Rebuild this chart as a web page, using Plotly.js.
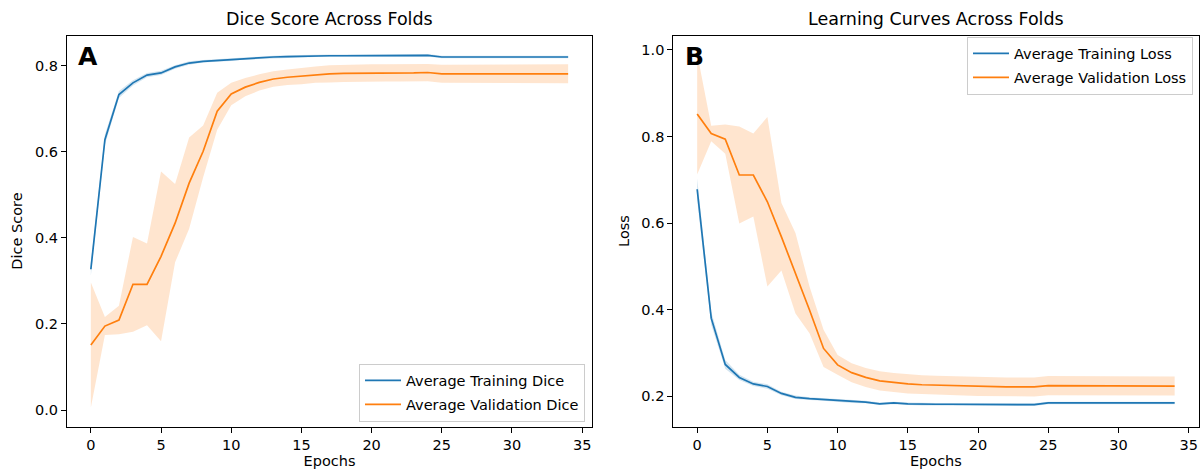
<!DOCTYPE html>
<html>
<head>
<meta charset="utf-8">
<script src="https://cdn.plot.ly/plotly-3.0.1.min.js"></script>
<style>html,body{margin:0;padding:0;background:#fff;}#chart{width:1201px;height:471px;}</style>
</head>
<body>
<div id="chart"></div>
<script>
// ---- data ----
const epochs = [0,1,2,3,4,5,6,7,8,9,10,11,12,13,14,15,16,17,18,19,20,21,22,23,24,25,26,27,28,29,30,31,32,33,34];

const trainDiceMean = [0.327,0.628,0.733,0.760,0.778,0.783,0.797,0.806,0.810,0.812,0.814,0.817,0.819,0.820,0.821,0.822,0.823,0.823,0.823,0.823,0.824,0.824,0.824,0.824,0.824,0.820,0.820,0.820,0.820,0.821,0.821,0.821,0.820,0.820,0.820];
const trainDiceStd  = [0.015,0.012,0.008,0.006,0.005,0.005,0.004,0.004,0.003,0.003,0.003,0.003,0.003,0.003,0.003,0.003,0.003,0.003,0.003,0.003,0.003,0.003,0.003,0.003,0.003,0.003,0.003,0.003,0.003,0.003,0.003,0.003,0.003,0.003,0.003];
const valDiceMean   = [0.151,0.195,0.209,0.292,0.292,0.357,0.434,0.527,0.601,0.694,0.734,0.750,0.761,0.769,0.773,0.776,0.779,0.781,0.782,0.782,0.783,0.783,0.783,0.783,0.784,0.781,0.781,0.781,0.781,0.781,0.781,0.781,0.781,0.781,0.781];
const valDiceStd    = [0.145,0.021,0.033,0.110,0.095,0.197,0.091,0.106,0.060,0.043,0.026,0.021,0.019,0.018,0.018,0.019,0.019,0.020,0.020,0.020,0.020,0.020,0.020,0.020,0.020,0.021,0.021,0.021,0.021,0.021,0.021,0.021,0.022,0.022,0.022];

const trainLossMean = [0.678,0.380,0.273,0.243,0.228,0.222,0.206,0.197,0.194,0.192,0.190,0.187,0.186,0.182,0.184,0.182,0.181,0.181,0.181,0.181,0.181,0.180,0.180,0.180,0.180,0.184,0.184,0.184,0.184,0.184,0.184,0.184,0.184,0.184,0.184];
const trainLossStd  = [0.025,0.015,0.010,0.006,0.005,0.005,0.004,0.004,0.003,0.003,0.003,0.003,0.003,0.003,0.003,0.003,0.003,0.003,0.003,0.003,0.003,0.003,0.003,0.003,0.003,0.003,0.003,0.003,0.003,0.003,0.003,0.003,0.003,0.003,0.003];
const valLossMean   = [0.852,0.807,0.794,0.711,0.711,0.649,0.568,0.484,0.399,0.310,0.272,0.254,0.243,0.235,0.231,0.228,0.226,0.225,0.224,0.223,0.222,0.222,0.221,0.221,0.221,0.224,0.224,0.224,0.223,0.223,0.223,0.223,0.223,0.223,0.223];
const valLossStd    = [0.140,0.018,0.034,0.112,0.096,0.196,0.078,0.093,0.054,0.043,0.023,0.022,0.022,0.022,0.022,0.022,0.022,0.022,0.022,0.022,0.022,0.022,0.022,0.022,0.022,0.022,0.022,0.022,0.022,0.022,0.022,0.022,0.022,0.022,0.022];

const xTicks = [0,5,10,15,20,25,30,35];
const yTicksDice = [0.0,0.2,0.4,0.6,0.8];
const yTicksLoss = [0.2,0.4,0.6,0.8,1.0];

// ---- styling ----
const BLUE = '#1f77b4', ORANGE = '#ff7f0e';
const BLUE_FILL = 'rgba(31,119,180,0.2)', ORANGE_FILL = 'rgba(255,127,14,0.2)';
const FONT = 'DejaVu Sans, sans-serif';
const FS = 14.5, TFS = 17.5;

function band(mean, std, fill, xa, ya) {
  const up = mean.map((m, i) => m + std[i]);
  const lo = mean.map((m, i) => m - std[i]);
  return {
    x: epochs.concat(epochs.slice().reverse()),
    y: up.concat(lo.slice().reverse()),
    xaxis: xa, yaxis: ya,
    type: 'scatter', mode: 'lines', fill: 'toself', fillcolor: fill,
    line: {width: 0, color: 'rgba(0,0,0,0)'}, showlegend: false, hoverinfo: 'skip'
  };
}
function line(mean, color, name, xa, ya, leg) {
  return {x: epochs, y: mean, xaxis: xa, yaxis: ya, type: 'scatter', mode: 'lines',
          name: name, legendgroup: name, line: {color: color, width: 1.7}, legend: leg};
}

const traces = [
  band(trainDiceMean, trainDiceStd, BLUE_FILL, 'x', 'y'),
  band(valDiceMean, valDiceStd, ORANGE_FILL, 'x', 'y'),
  line(trainDiceMean, BLUE, 'Average Training Dice', 'x', 'y', 'legend'),
  line(valDiceMean, ORANGE, 'Average Validation Dice', 'x', 'y', 'legend'),
  band(trainLossMean, trainLossStd, BLUE_FILL, 'x2', 'y2'),
  band(valLossMean, valLossStd, ORANGE_FILL, 'x2', 'y2'),
  line(trainLossMean, BLUE, 'Average Training Loss', 'x2', 'y2', 'legend2'),
  line(valLossMean, ORANGE, 'Average Validation Loss', 'x2', 'y2', 'legend2')
];

const W = 1201, H = 471;
const axBase = {
  showline: true, mirror: true, linecolor: '#000', linewidth: 1,
  showgrid: false, zeroline: false, ticks: 'outside', ticklen: 5, tickwidth: 1, tickcolor: '#000',
  tickfont: {family: FONT, size: FS, color: '#000'}
};
const xBase = Object.assign({}, axBase, {range: [-1.7, 35.7], tickvals: xTicks,
  title: {text: 'Epochs', font: {family: FONT, size: FS, color: '#000'}, standoff: 3}});

const leftX = [67 / W, 592 / W], rightX = [673.3 / W, 1198.5 / W];
const yDom = [1 - 426.5 / H, 1 - 35.5 / H];

const legendBase = {
  font: {family: FONT, size: FS, color: '#000'}, bgcolor: 'rgba(255,255,255,0.8)',
  bordercolor: '#cccccc', borderwidth: 1, itemwidth: 36, tracegroupgap: 2
};

const layout = {
  width: W, height: H, margin: {l: 0, r: 0, t: 0, b: 0},
  paper_bgcolor: '#fff', plot_bgcolor: '#fff', showlegend: true,
  xaxis: Object.assign({}, xBase, {domain: leftX, anchor: 'y'}),
  yaxis: Object.assign({}, axBase, {domain: yDom, anchor: 'x', range: [-0.0383, 0.870],
    tickvals: yTicksDice, tickformat: '.1f',
    title: {text: 'Dice Score', font: {family: FONT, size: FS, color: '#000'}, standoff: 8}}),
  xaxis2: Object.assign({}, xBase, {domain: rightX, anchor: 'y2'}),
  yaxis2: Object.assign({}, axBase, {domain: yDom, anchor: 'x2', range: [0.1295, 1.0335],
    tickvals: yTicksLoss, tickformat: '.1f',
    title: {text: 'Loss', font: {family: FONT, size: FS, color: '#000'}, standoff: 8}}),
  legend: Object.assign({}, legendBase, {x: 585 / W, xanchor: 'right', y: 1 - 421.5 / H, yanchor: 'bottom'}),
  legend2: Object.assign({}, legendBase, {x: 1193 / W, xanchor: 'right', y: 1 - 36.5 / H, yanchor: 'top'}),
  annotations: [
    {text: 'Dice Score Across Folds', xref: 'x domain', yref: 'paper', x: 0.5, y: 1 - 19 / H,
     xanchor: 'center', yanchor: 'middle', showarrow: false, font: {family: FONT, size: TFS, color: '#000'}},
    {text: 'Learning Curves Across Folds', xref: 'x2 domain', yref: 'paper', x: 0.5, y: 1 - 19 / H,
     xanchor: 'center', yanchor: 'middle', showarrow: false, font: {family: FONT, size: TFS, color: '#000'}},
    {text: '<b>A</b>', xref: 'x domain', yref: 'y domain', x: 0.018, y: 0.988,
     xanchor: 'left', yanchor: 'top', showarrow: false, font: {family: FONT, size: 25, color: '#000'}},
    {text: '<b>B</b>', xref: 'x2 domain', yref: 'y2 domain', x: 0.018, y: 0.988,
     xanchor: 'left', yanchor: 'top', showarrow: false, font: {family: FONT, size: 25, color: '#000'}}
  ]
};

Plotly.newPlot('chart', traces, layout, {displayModeBar: false, staticPlot: true});
</script>
</body>
</html>
